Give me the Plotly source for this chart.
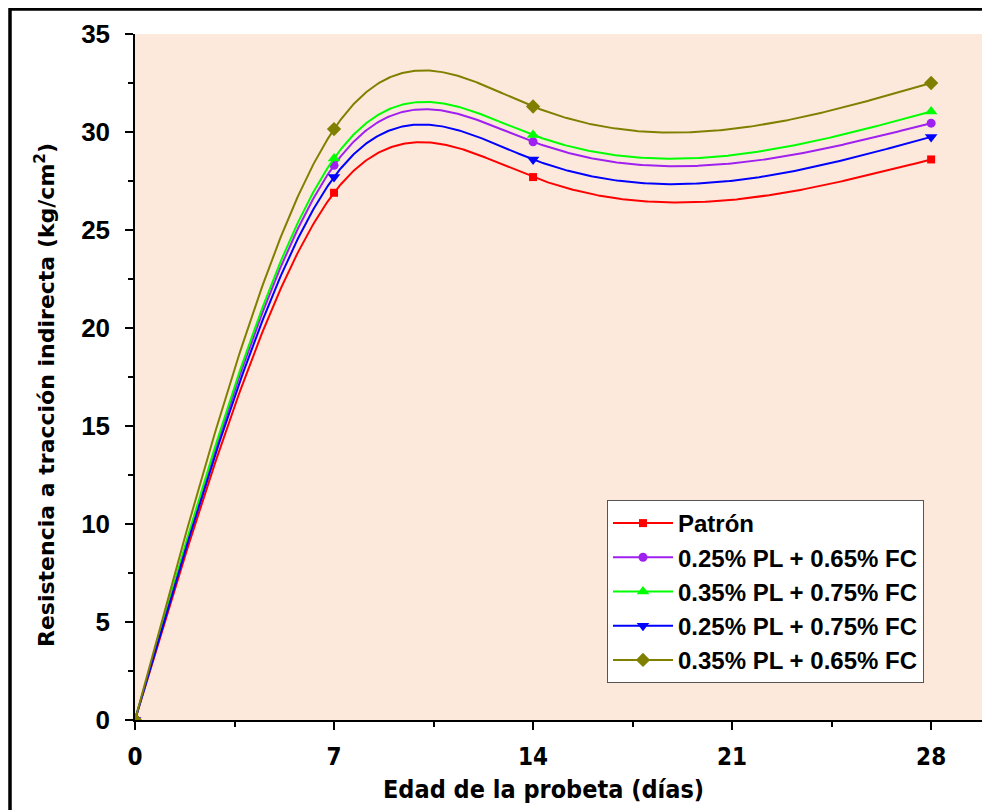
import numpy as np
import plotly.graph_objects as go

dias = [0, 7, 14, 28]
patron = [0, 26.9, 27.7, 28.6]
pl025_fc065 = [0, 28.3, 29.5, 30.45]
pl035_fc075 = [0, 28.65, 29.85, 31.05]
pl025_fc075 = [0, 27.7, 28.6, 29.75]
pl035_fc065 = [0, 30.15, 31.3, 32.5]

names = ["Patrón", "0.25% PL + 0.65% FC", "0.35% PL + 0.75% FC",
         "0.25% PL + 0.75% FC", "0.35% PL + 0.65% FC"]
series = [patron, pl025_fc065, pl035_fc075, pl025_fc075, pl035_fc065]
colors = ["#FF0000", "#A020F0", "#00FF00", "#0000FF", "#808000"]
symbols = ["square", "circle", "triangle-up", "triangle-down", "diamond"]
sizes = [8, 9, 11, 11, 11]


def natural_spline(x, y, xs):
    """Natural cubic spline through (x, y), evaluated at xs (line rendering)."""
    x = np.asarray(x, float)
    y = np.asarray(y, float)
    n = len(x)
    h = np.diff(x)
    A = np.zeros((n, n))
    rhs = np.zeros(n)
    A[0, 0] = A[-1, -1] = 1.0
    for i in range(1, n - 1):
        A[i, i - 1] = h[i - 1]
        A[i, i] = 2 * (h[i - 1] + h[i])
        A[i, i + 1] = h[i]
        rhs[i] = 6 * ((y[i + 1] - y[i]) / h[i] - (y[i] - y[i - 1]) / h[i - 1])
    M = np.linalg.solve(A, rhs)
    out = np.empty_like(xs)
    for k, xv in enumerate(xs):
        i = min(max(np.searchsorted(x, xv) - 1, 0), n - 2)
        hi = h[i]
        a = x[i + 1] - xv
        b = xv - x[i]
        out[k] = (M[i] * a ** 3 / (6 * hi) + M[i + 1] * b ** 3 / (6 * hi)
                  + (y[i] / hi - M[i] * hi / 6) * a
                  + (y[i + 1] / hi - M[i + 1] * hi / 6) * b)
    return out


xs = np.linspace(dias[0], dias[-1], 561)

fig = go.Figure()
for n, s, c, sym, sz in zip(names, series, colors, symbols, sizes):
    fig.add_trace(go.Scatter(
        x=xs, y=natural_spline(dias, s, xs), mode="lines",
        line=dict(color=c, width=2), legendgroup=n, showlegend=False,
        hoverinfo="skip",
    ))
    fig.add_trace(go.Scatter(
        x=dias, y=s, mode="markers", legendgroup=n, showlegend=False,
        marker=dict(symbol=sym, size=sz, color=c), name=n,
    ))
    fig.add_trace(go.Scatter(
        x=[None], y=[None], name=n, mode="lines+markers", legendgroup=n,
        line=dict(color=c, width=2),
        marker=dict(symbol=sym, size=sz, color=c),
    ))

W, H = 990, 810
# page body is offset by 8 px in the browser
L, R, T, B = 127, 10, 26, 98
pw, ph = W - L - R, H - T - B

fig.update_layout(
    width=W, height=H,
    margin=dict(l=L, r=R, t=T, b=B),
    paper_bgcolor="white",
    plot_bgcolor="rgb(252,233,219)",
    font=dict(family="Liberation Sans", color="black"),
    legend=dict(
        x=(599 - L) / pw, y=(H - B - 492) / ph, xanchor="left", yanchor="top",
        bgcolor="white", bordercolor="#555555", borderwidth=1,
        font=dict(family="Liberation Sans", size=24, color="black", weight="bold"),
        tracegroupgap=0, itemwidth=60,
    ),
    showlegend=True,
)
fig.update_xaxes(
    range=[0, 30], tickvals=[0, 7, 14, 21, 28],
    showgrid=False, zeroline=False, showline=True, linecolor="black", linewidth=1.5,
    ticks="outside", ticklen=8, tickwidth=1.5, tickcolor="black",
    minor=dict(tickvals=[3.5, 10.5, 17.5, 24.5], ticks="outside", ticklen=5,
               tickwidth=1.5, tickcolor="black"),
    tickfont=dict(family="DejaVu Sans Condensed", size=24, weight="bold"),
    ticklabelstandoff=6,
)
fig.update_yaxes(
    range=[0, 35], tickvals=[0, 5, 10, 15, 20, 25, 30, 35],
    showgrid=False, zeroline=False, showline=True, linecolor="black", linewidth=1.5,
    ticks="outside", ticklen=8, tickwidth=1.5, tickcolor="black",
    minor=dict(tickvals=[2.5, 7.5, 12.5, 17.5, 22.5, 27.5, 32.5], ticks="outside",
               ticklen=5, tickwidth=1.5, tickcolor="black"),
    tickfont=dict(family="Liberation Sans", size=26, weight="bold"),
    ticklabelstandoff=10,
)
fig.add_annotation(
    text="Edad de la probeta (días)", xref="paper", yref="paper",
    x=(535 - L) / pw, y=(H - B - 781) / ph, xanchor="center", yanchor="middle",
    showarrow=False, font=dict(family="DejaVu Sans Condensed", size=25, weight="bold", color="black"),
)
fig.add_annotation(
    text="Resistencia a tracción indirecta (kg/cm<sup>2</sup>)", xref="paper", yref="paper",
    x=(37 - L) / pw, y=(H - B - 387) / ph, xanchor="center", yanchor="middle",
    textangle=-90, showarrow=False,
    font=dict(family="DejaVu Sans", size=22, weight="bold", color="black"),
)
fig.add_shape(type="rect", xref="paper", yref="paper",
              x0=(2 - L) / pw, x1=(1010 - L) / pw,
              y0=(H - B - 830) / ph, y1=(H - B - 1) / ph,
              line=dict(color="black", width=3.5), fillcolor="rgba(0,0,0,0)", layer="above")
fig.write_html("out.html")
